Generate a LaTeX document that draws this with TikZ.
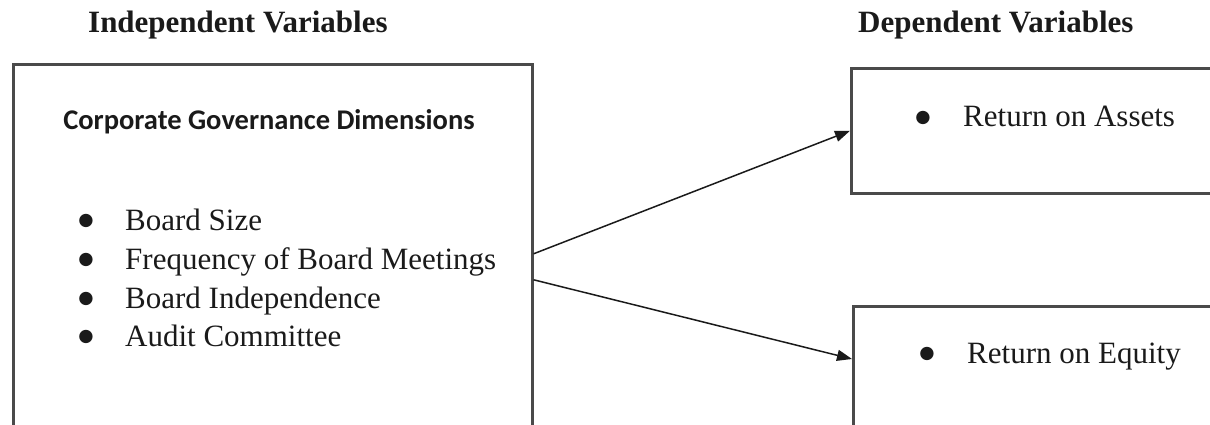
\documentclass[tikz,border=0pt]{standalone}
\usepackage{fontspec}
\setmainfont{Liberation Serif}
\newfontfamily\carlitofont{Carlito}
\newfontfamily\dotfont{DejaVu Sans}
\usetikzlibrary{arrows.meta,calc}
\definecolor{framegray}{HTML}{4A4A4A}
\definecolor{inkdark}{HTML}{1A1A1A}
\begin{document}
\begin{tikzpicture}[x=1pt,y=-1pt,
  varbox/.style={draw=framegray,line width=2.6pt,rectangle,anchor=north west,inner sep=0pt},
  heading/.style={anchor=base west,inner sep=0pt,font=\fontsize{31}{37}\selectfont\bfseries,text=inkdark},
  entry/.style={anchor=base west,inner sep=0pt,font=\fontsize{31}{37}\selectfont,text=inkdark},
  listdot/.style={inner sep=0pt,anchor=center,font=\dotfont\fontsize{17.5}{17.5}\selectfont,text=inkdark},
  link/.style={draw=inkdark,line width=1.5pt,-{Triangle[length=15pt,width=11pt]}}]
\useasboundingbox (0,0) rectangle (1210,425);

% headings
\node[heading] (ivtitle) at (88,33) {Independent Variables};
\node[heading] (dvtitle) at (858,33) {Dependent Variables};

% frames
\node[varbox,minimum width=519pt,minimum height=405pt] (iv) at (12,63) {};
\node[varbox,minimum width=400pt,minimum height=125pt] (roa) at (850,67) {};
\node[varbox,minimum width=400pt,minimum height=200pt] (roe) at (852,305) {};

% independent side contents
\node[anchor=base,inner sep=0pt,font=\carlitofont\bfseries\fontsize{28.5}{34}\selectfont,text=inkdark] (cgd) at (269,130) {Corporate Governance Dimensions};
\node[entry] (bs) at (125,230) {Board Size};
\node[entry] (fbm) at (125,269) {Frequency of Board Meetings};
\node[entry] (bi) at (125,308) {Board Independence};
\node[entry] (ac) at (125,346) {Audit Committee};
\foreach \item in {bs,fbm,bi,ac}
  \node[listdot] (\item dot) at ($(\item.base west)+(-39,-9)$) {●};

% dependent side contents
\node[entry] (roatext) at (963,127) {Return on Assets};
\node[entry] (roetext) at (967,363) {Return on Equity};
\foreach \item in {roatext,roetext}
  \node[listdot] (\item dot) at ($(\item.base west)+(-40,-9.5)$) {●};

% connectors
\draw[link] ($(iv.east)+(0,-13)$) -- (roa.west);
\draw[link] ($(iv.east)+(0,13)$) -- ($(roe.north west)+(0,54)$);
\end{tikzpicture}
\end{document}
